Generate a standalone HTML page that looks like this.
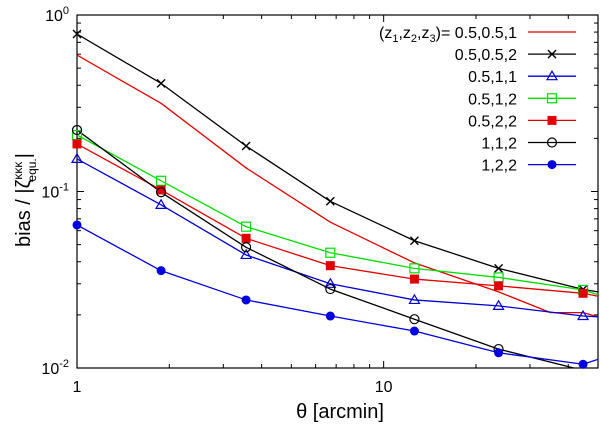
<!DOCTYPE html>
<html><head><meta charset="utf-8">
<style>
html,body{margin:0;padding:0;background:#fff;}
svg{display:block;font-family:"Liberation Sans",sans-serif;}
</style></head>
<body>
<svg id="chart" width="600" height="426" viewBox="0 0 600 426" xmlns="http://www.w3.org/2000/svg">
<g id="grid"></g>
<g id="plot"></g>
<g id="legend"></g>
<text x="340" y="418" font-size="20" text-anchor="middle">θ [arcmin]</text>
<text transform="translate(30,200) rotate(-90)" font-size="20" text-anchor="middle">bias / |ζ<tspan font-size="12" dy="-8">κκκ</tspan><tspan font-size="12" dx="-20" dy="14">equ.</tspan><tspan dy="-6">|</tspan></text>
</svg>
<script>
const xTicks = [1, 10];
const xTickLabels = ["1", "10"];
const yTicks = [1, 0.1, 0.01];
const yTickExp = ["0", "-1", "-2"];
const markerX = [1, 1.88, 3.56, 6.7, 12.6, 23.7, 44.7];
const seriesNames = ["(z1,z2,z3)= 0.5,0.5,1", "0.5,0.5,2", "0.5,1,1", "0.5,1,2", "0.5,2,2", "1,1,2", "1,2,2"];
const lineX_r051 = [1, 1.88, 3.56, 6.7, 12.6, 23.7, 35, 44.7, 50];
const lineY_r051 = [0.593, 0.316, 0.136, 0.067, 0.0394, 0.027, 0.0206, 0.0206, 0.0195];
const s052 = [0.78, 0.41, 0.181, 0.088, 0.0526, 0.0367, 0.0279];
const s052end = 0.027;
const s011 = [0.153, 0.084, 0.0437, 0.030, 0.0243, 0.0225, 0.0197];
const s011end = 0.0195;
const s012 = [0.209, 0.115, 0.0632, 0.045, 0.0367, 0.0326, 0.0277];
const s012end = 0.026;
const s022 = [0.186, 0.102, 0.0543, 0.038, 0.0319, 0.0292, 0.0265];
const s022end = 0.0255;
const s112 = [0.223, 0.099, 0.0483, 0.028, 0.0189, 0.0128, 0.0097];
const s112end = 0.0093;
const s122 = [0.0646, 0.0356, 0.0243, 0.0197, 0.0162, 0.0122, 0.0105];
const s122end = 0.0112;

const L=77, R=598, T=15, B=368, XMAX=50;
const NS="http://www.w3.org/2000/svg";
const xs = v => L + Math.log10(v) / Math.log10(XMAX) * (R - L);
const ys = v => T + (-Math.log10(v)) / 2 * (B - T);
function el(tag, attrs, parent){ const e=document.createElementNS(NS,tag); for(const k in attrs) e.setAttribute(k,attrs[k]); parent.appendChild(e); return e; }
const grid=document.getElementById('grid'), plot=document.getElementById('plot'), legend=document.getElementById('legend');

const fr = el('rect',{x:L,y:T,width:R-L,height:B-T,fill:'none',stroke:'#000','stroke-width':1.2},grid);


for(let d=0; d<2; d++){ for(let m=1;m<10;m++){ const v=m*Math.pow(10,d); if(v>XMAX) break; const x=xs(v); const len=m===1?7:4;
  el('line',{x1:x,y1:B,x2:x,y2:B-len,stroke:'#000'},grid); el('line',{x1:x,y1:T,x2:x,y2:T+len,stroke:'#000'},grid);} }
xTicks.forEach((v,i)=>{ const t=el('text',{x:xs(v),y:B+24,'font-size':16,'text-anchor':'middle'},grid); t.textContent=xTickLabels[i];
    });
for(let d=-2; d<0; d++){ for(let m=1;m<10;m++){ const v=m*Math.pow(10,d); const y=ys(v); const len=m===1?7:4;
  el('line',{x1:L,y1:y,x2:L+len,y2:y,stroke:'#000'},grid); el('line',{x1:R,y1:y,x2:R-len,y2:y,stroke:'#000'},grid);} }
yTicks.forEach((v,i)=>{ const t=el('text',{x:L-8,y:ys(v)+6,'font-size':16,'text-anchor':'end'},grid);
   
  const a=el('tspan',{},t); a.textContent='10'; const b=el('tspan',{'font-size':11,dy:-7},t); b.textContent=yTickExp[i]; });

const clip=el('clipPath',{id:'cp'},plot); el('rect',{x:L,y:T,width:R-L,height:B-T},clip);
const g=el('g',{'clip-path':'url(#cp)'},plot);

function line(xv,yv,color,name){ const p=el('polyline',{points:xv.map((x,i)=>xs(x)+','+ys(yv[i])).join(' '),fill:'none',stroke:color,'stroke-width':1.3,'stroke-linejoin':'round'},g);
    }
function marker(type,cx,cy,color,parent){ let m;
  if(type==='x'){ m=el('path',{d:`M${cx-4},${cy-4}L${cx+4},${cy+4}M${cx-4},${cy+4}L${cx+4},${cy-4}`,stroke:color,'stroke-width':1.4,fill:'none'},parent); }
  else if(type==='tri'){ m=el('path',{d:`M${cx},${cy-5}L${cx+5},${cy+3.5}L${cx-5},${cy+3.5}Z`,stroke:color,'stroke-width':1.2,fill:'none'},parent); }
  else if(type==='sq'){ m=el('rect',{x:cx-4.5,y:cy-4.5,width:9,height:9,stroke:color,'stroke-width':1.2,fill:'none'},parent); }
  else if(type==='fsq'){ m=el('rect',{x:cx-4.5,y:cy-4.5,width:9,height:9,fill:color},parent); }
  else if(type==='circ'){ m=el('circle',{cx:cx,cy:cy,r:4.5,stroke:color,'stroke-width':1.2,fill:'none'},parent); }
  else { m=el('circle',{cx:cx,cy:cy,r:4.5,fill:color},parent); }
    }

line(lineX_r051,lineY_r051,'#e00000','series-0.5-0.5-1');
const ms=[[s052,s052end,'#000','x','series-0.5-0.5-2'],[s011,s011end,'#0000d0','tri','series-0.5-1-1'],[s012,s012end,'#00dd00','sq','series-0.5-1-2'],
 [s022,s022end,'#e00000','fsq','series-0.5-2-2'],[s112,s112end,'#000','circ','series-1-1-2'],[s122,s122end,'#0000e0','dot','series-1-2-2']];
ms.forEach(s=>{ line(markerX.concat([XMAX]), s[0].concat([s[1]]), s[2], s[4]);
  markerX.forEach((x,i)=>{ const cy=ys(s[0][i]); if(cy<=B+1) marker(s[3],xs(x),cy,s[2],plot); }); });

const legColors=['#e00000','#000','#0000d0','#00dd00','#e00000','#000','#0000e0'];
const legTypes=[null,'x','tri','sq','fsq','circ','dot'];
seriesNames.forEach((n,i)=>{ const y=32+i*22.1;
  const t=el('text',{x:517,y:y+6,'font-size':16,'text-anchor':'end'},legend);
   
  if(i===0){ t.innerHTML='(z<tspan font-size="11" dy="4">1</tspan><tspan dy="-4">,z</tspan><tspan font-size="11" dy="4">2</tspan><tspan dy="-4">,z</tspan><tspan font-size="11" dy="4">3</tspan><tspan dy="-4">)= 0.5,0.5,1</tspan>'; }
  else t.textContent=n;
  el('line',{x1:528,y1:y,x2:576,y2:y,stroke:legColors[i],'stroke-width':1.3},legend);
  if(legTypes[i]) marker(legTypes[i],552,y,legColors[i],legend); });
</script>
</body></html>
